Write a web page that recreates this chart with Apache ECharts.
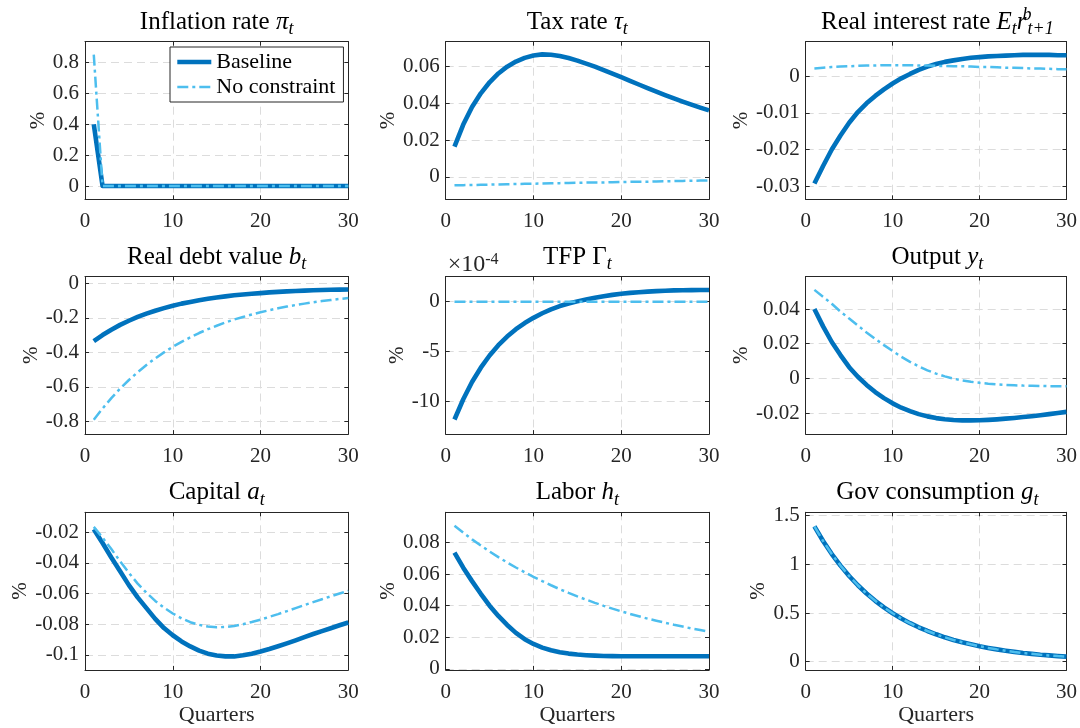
<!DOCTYPE html>
<html><head><meta charset="utf-8">
<script src="https://cdn.jsdelivr.net/npm/echarts@6/dist/echarts.min.js"></script>
<style>html,body{margin:0;padding:0;background:#fff}#c{width:1080px;height:728px}</style>
</head><body><div id="c"></div>
<script>
// ---------------- data ----------------
const quarters = [1,2,3,4,5,6,7,8,9,10,11,12,13,14,15,16,17,18,19,20,21,22,23,24,25,26,27,28,29,30];
const seriesNames = ['Baseline', 'No constraint'];

const inflBase = [0.40,0,0,0,0,0,0,0,0,0,0,0,0,0,0,0,0,0,0,0,0,0,0,0,0,0,0,0,0,0];
const inflNC   = [0.85,0,0,0,0,0,0,0,0,0,0,0,0,0,0,0,0,0,0,0,0,0,0,0,0,0,0,0,0,0];

const taxBase = [0.0165,0.0285,0.038,0.0455,0.0515,0.0563,0.0600,0.0628,0.0648,0.0661,0.0667,0.0665,0.0658,0.0647,0.0633,0.0617,0.0600,0.0581,0.0562,0.0543,0.0523,0.0503,0.0483,0.0464,0.0445,0.0427,0.0410,0.0393,0.0377,0.0362];
const taxNC   = [-0.0046,-0.0045,-0.0044,-0.0043,-0.0042,-0.0041,-0.0040,-0.0039,-0.0038,-0.0037,-0.0036,-0.0035,-0.0034,-0.0033,-0.0032,-0.0031,-0.0030,-0.0030,-0.0029,-0.0028,-0.0027,-0.0026,-0.0026,-0.0025,-0.0024,-0.0023,-0.0022,-0.0021,-0.0020,-0.0019];

const rrBase = [-0.0293,-0.0245,-0.0200,-0.0162,-0.0127,-0.0098,-0.0074,-0.0054,-0.0036,-0.0020,-0.0006,0.0006,0.0017,0.0026,0.0033,0.0039,0.0043,0.0047,0.0050,0.0052,0.0054,0.0055,0.0056,0.0057,0.0058,0.0058,0.0058,0.0058,0.0057,0.0057];
const rrNC   = [0.0021,0.0023,0.0025,0.0026,0.0027,0.0028,0.0029,0.0029,0.0030,0.0030,0.0030,0.0030,0.0029,0.0029,0.0028,0.0028,0.0027,0.0027,0.0026,0.0025,0.0025,0.0024,0.0023,0.0023,0.0022,0.0021,0.0021,0.0020,0.0019,0.0019];

const debtBase = [-0.335,-0.300,-0.269,-0.241,-0.217,-0.195,-0.176,-0.159,-0.144,-0.130,-0.118,-0.108,-0.098,-0.090,-0.083,-0.076,-0.070,-0.065,-0.061,-0.057,-0.053,-0.050,-0.047,-0.045,-0.043,-0.041,-0.039,-0.038,-0.037,-0.036];
const debtNC   = [-0.790,-0.725,-0.665,-0.610,-0.560,-0.515,-0.473,-0.435,-0.400,-0.368,-0.339,-0.313,-0.288,-0.266,-0.246,-0.227,-0.210,-0.195,-0.181,-0.168,-0.156,-0.145,-0.135,-0.126,-0.118,-0.110,-0.103,-0.097,-0.091,-0.086];

// TFP in units of 1e-4
const tfpBase = [-11.8,-9.77,-8.05,-6.61,-5.39,-4.36,-3.49,-2.76,-2.14,-1.62,-1.16,-0.77,-0.44,-0.18,0.03,0.22,0.40,0.55,0.68,0.79,0.88,0.95,1.01,1.06,1.10,1.13,1.15,1.16,1.17,1.17];
const tfpNC   = [0,0,0,0,0,0,0,0,0,0,0,0,0,0,0,0,0,0,0,0,0,0,0,0,0,0,0,0,0,0];

const outBase = [0.040,0.030,0.021,0.0135,0.0065,0.0010,-0.0037,-0.0078,-0.0113,-0.0143,-0.0168,-0.0188,-0.0205,-0.0218,-0.0228,-0.0235,-0.0239,-0.0241,-0.0241,-0.0240,-0.0238,-0.0235,-0.0231,-0.0227,-0.0222,-0.0217,-0.0211,-0.0205,-0.0199,-0.0192];
const outNC   = [0.051,0.047,0.043,0.0385,0.0345,0.0305,0.0265,0.0228,0.0192,0.0158,0.0125,0.0096,0.0070,0.0047,0.0028,0.0012,-0.0001,-0.0011,-0.0019,-0.0025,-0.0030,-0.0034,-0.0037,-0.0039,-0.0041,-0.0042,-0.0043,-0.0044,-0.0044,-0.0044];

const capBase = [-0.018,-0.027,-0.0365,-0.0455,-0.0545,-0.0625,-0.0695,-0.0765,-0.0825,-0.0872,-0.0912,-0.0945,-0.0972,-0.0992,-0.1004,-0.1010,-0.1010,-0.1003,-0.0992,-0.0978,-0.0962,-0.0944,-0.0925,-0.0905,-0.0884,-0.0864,-0.0845,-0.0826,-0.0807,-0.0789];
const capNC   = [-0.0165,-0.0235,-0.031,-0.039,-0.0465,-0.0535,-0.0595,-0.0648,-0.0692,-0.0730,-0.0762,-0.0787,-0.0804,-0.0815,-0.0820,-0.0818,-0.0811,-0.0800,-0.0786,-0.0770,-0.0752,-0.0734,-0.0715,-0.0695,-0.0675,-0.0656,-0.0637,-0.0618,-0.0600,-0.0583];

const labBase = [0.0735,0.064,0.0555,0.0475,0.040,0.0335,0.0278,0.0228,0.0188,0.0158,0.0135,0.0118,0.0106,0.0097,0.0091,0.0087,0.0084,0.0082,0.0081,0.0080,0.0080,0.0080,0.0080,0.0080,0.0080,0.0080,0.0080,0.0080,0.0080,0.0080];
const labNC   = [0.0905,0.0861,0.0819,0.0780,0.0742,0.0707,0.0673,0.0641,0.0611,0.0582,0.0555,0.0529,0.0504,0.0481,0.0459,0.0438,0.0418,0.0399,0.0381,0.0364,0.0348,0.0333,0.0318,0.0305,0.0292,0.0279,0.0268,0.0256,0.0246,0.0236];

const govBase = [1.390,1.240,1.106,0.987,0.880,0.785,0.700,0.625,0.557,0.497,0.443,0.395,0.353,0.315,0.281,0.250,0.223,0.199,0.178,0.158,0.141,0.126,0.112,0.100,0.089,0.080,0.071,0.064,0.057,0.051];
const govNC   = [1.390,1.240,1.106,0.987,0.880,0.785,0.700,0.625,0.557,0.497,0.443,0.395,0.353,0.315,0.281,0.250,0.223,0.199,0.178,0.158,0.141,0.126,0.112,0.100,0.089,0.080,0.071,0.064,0.057,0.051];

// tick labels
const xTicks = [0,10,20,30];
const inflTicks = [0,0.2,0.4,0.6,0.8];
const taxTicks = [0,0.02,0.04,0.06];
const rrTicks = [-0.03,-0.02,-0.01,0];
const debtTicks = [-0.8,-0.6,-0.4,-0.2,0];
const tfpTicks = [-10,-5,0];
const outTicks = [-0.02,0,0.02,0.04];
const capTicks = [-0.1,-0.08,-0.06,-0.04,-0.02];
const labTicks = [0,0.02,0.04,0.06,0.08];
const govTicks = [0,0.5,1,1.5];

// titles (rich text)
const titles = [
  '{n|Inflation rate }{m|π}{s|t}',
  '{n|Tax rate }{m|τ}{s|t}',
  '{n|Real interest rate }{m|E}{s|t}{m|r}{p|b}{s2|t+1}',
  '{n|Real debt value }{m|b}{s|t}',
  '{n|TFP }{n|Γ}{s|t}',
  '{n|Output }{m|y}{s|t}',
  '{n|Capital }{m|a}{s|t}',
  '{n|Labor }{m|h}{s|t}',
  '{n|Gov consumption }{m|g}{s|t}'
];
const expNote = '{a|×10}{b|-4}';

// ---------------- layout / config ----------------
const FONT = 'Liberation Serif';
const colLeft = [85, 445.7, 805.7];
const plotW = 263.3;
const rowTop = [41.7, 276.5, 512.3];
const plotH = 157.6;

const panels = [
  {base: inflBase, nc: inflNC, min: -0.086, max: 0.934, ticks: inflTicks, gap: 35},
  {base: taxBase, nc: taxNC, min: -0.0122, max: 0.0736, ticks: taxTicks, gap: 47},
  {base: rrBase, nc: rrNC, min: -0.0336, max: 0.0094, ticks: rrTicks, gap: 52},
  {base: debtBase, nc: debtNC, min: -0.873, max: 0.039, ticks: debtTicks, gap: 43},
  {base: tfpBase, nc: tfpNC, min: -13.26, max: 2.52, ticks: tfpTicks, gap: 37, exp: true},
  {base: outBase, nc: outNC, min: -0.032, max: 0.0587, ticks: outTicks, gap: 52},
  {base: capBase, nc: capNC, min: -0.1098, max: -0.007, ticks: capTicks, gap: 51},
  {base: labBase, nc: labNC, min: -0.0006, max: 0.099, ticks: labTicks, gap: 47},
  {base: govBase, nc: govNC, min: -0.085, max: 1.535, ticks: govTicks, gap: 37}
];

const AX = '#262626';
const axisLine = {show: true, onZero: false, lineStyle: {color: AX, width: 1}};
const gridLine = {show: true, lineStyle: {color: '#dcdcdc', width: 1, type: [8, 5]}};
const labelStyle = {fontFamily: FONT, fontSize: 21, color: AX};

const grid = [], xAxis = [], yAxis = [], series = [], title = [];
panels.forEach((p, i) => {
  const r = Math.floor(i / 3), c = i % 3;
  grid.push({left: colLeft[c], top: rowTop[r], width: plotW, height: plotH, containLabel: false});
  xAxis.push({
    type: 'value', gridIndex: i, min: 0, max: 30, position: 'bottom',
    axisLine: axisLine,
    axisTick: {show: true, inside: true, length: 4, customValues: xTicks, lineStyle: {color: AX}},
    axisLabel: {show: true, customValues: xTicks, margin: 12, ...labelStyle},
    splitLine: gridLine,
    name: r === 2 ? 'Quarters' : '', nameLocation: 'middle', nameGap: 34,
    nameTextStyle: {fontFamily: FONT, fontSize: 22, color: AX}
  });
  xAxis.push({
    type: 'value', gridIndex: i, min: 0, max: 30, position: 'top',
    axisLine: axisLine,
    axisTick: {show: true, inside: true, length: 4, customValues: xTicks, lineStyle: {color: AX}},
    axisLabel: {show: false}, splitLine: {show: false}
  });
  yAxis.push({
    type: 'value', gridIndex: i, min: p.min, max: p.max, position: 'left',
    axisLine: axisLine,
    axisTick: {show: true, inside: true, length: 4, customValues: p.ticks, lineStyle: {color: AX}},
    axisLabel: {show: true, customValues: p.ticks, margin: 6, ...labelStyle},
    splitLine: gridLine,
    name: '%', nameLocation: 'middle', nameGap: p.gap,
    nameTextStyle: {fontFamily: FONT, fontSize: 21, color: AX}
  });
  yAxis.push({
    type: 'value', gridIndex: i, min: p.min, max: p.max, position: 'right',
    axisLine: axisLine,
    axisTick: {show: true, inside: true, length: 4, customValues: p.ticks, lineStyle: {color: AX}},
    axisLabel: {show: false}, splitLine: {show: false}
  });
  series.push({
    type: 'line', name: seriesNames[0], xAxisIndex: 2 * i, yAxisIndex: 2 * i,
    data: quarters.map((q, k) => [q, p.base[k]]),
    symbol: 'none', showSymbol: false, z: 3,
    lineStyle: {color: '#0072BD', width: 4.6, cap: 'butt', join: 'round'},
    itemStyle: {color: '#0072BD'}
  });
  series.push({
    type: 'line', name: seriesNames[1], xAxisIndex: 2 * i, yAxisIndex: 2 * i,
    data: quarters.map((q, k) => [q, p.nc[k]]),
    symbol: 'none', showSymbol: false, z: 4,
    lineStyle: {color: '#4DBEEE', width: 2.5, type: [11, 4, 3, 4], cap: 'butt'},
    itemStyle: {color: '#4DBEEE'}
  });
  title.push({
    text: titles[i], left: colLeft[c] + plotW / 2, top: rowTop[r] - 35.5, textAlign: 'center', padding: 0,
    textStyle: {
      fontFamily: FONT, fontWeight: 'normal', color: '#000',
      rich: {
        n: {fontFamily: FONT, fontSize: 25, color: '#000', lineHeight: 32},
        m: {fontFamily: FONT, fontStyle: 'italic', fontSize: 25, color: '#000', lineHeight: 32},
        s: {fontFamily: FONT, fontStyle: 'italic', fontSize: 18, color: '#000', lineHeight: 20, verticalAlign: 'bottom'},
        s2: {fontFamily: FONT, fontStyle: 'italic', fontSize: 18, color: '#000', lineHeight: 16, verticalAlign: 'bottom'},
        p: {fontFamily: FONT, fontStyle: 'italic', fontSize: 18, color: '#000', lineHeight: 18, verticalAlign: 'top', width: 1}
      }
    }
  });
  if (p.exp) {
    // exponent note (×10^-4) above the upper-left corner of the panel
    title.push({
      text: expNote, left: colLeft[c] + 2, top: rowTop[r] - 25, padding: 0,
      textStyle: {
        fontFamily: FONT, fontWeight: 'normal', color: AX,
        rich: {
          a: {fontFamily: FONT, fontSize: 24, color: AX, lineHeight: 26},
          b: {fontFamily: FONT, fontSize: 16, color: AX, lineHeight: 12, verticalAlign: 'top'}
        }
      }
    });
  }
});

const option = {
  animation: false,
  backgroundColor: '#fff',
  title: title,
  legend: {
    show: true, orient: 'vertical', left: 170, top: 47, z: 10,
    data: seriesNames,
    itemWidth: 34, itemHeight: 14, itemGap: 3, padding: [4, 8, 4, 5],
    backgroundColor: '#fff', borderColor: AX, borderWidth: 1, borderRadius: 0,
    itemStyle: {opacity: 0},
    lineStyle: {width: 'inherit'},
    textStyle: {fontFamily: FONT, fontSize: 22, color: '#000'},
    selectedMode: false
  },
  grid: grid, xAxis: xAxis, yAxis: yAxis, series: series
};

const chart = echarts.init(document.getElementById('c'), null, {renderer: 'canvas'});
chart.setOption(option);
</script>
</body></html>
